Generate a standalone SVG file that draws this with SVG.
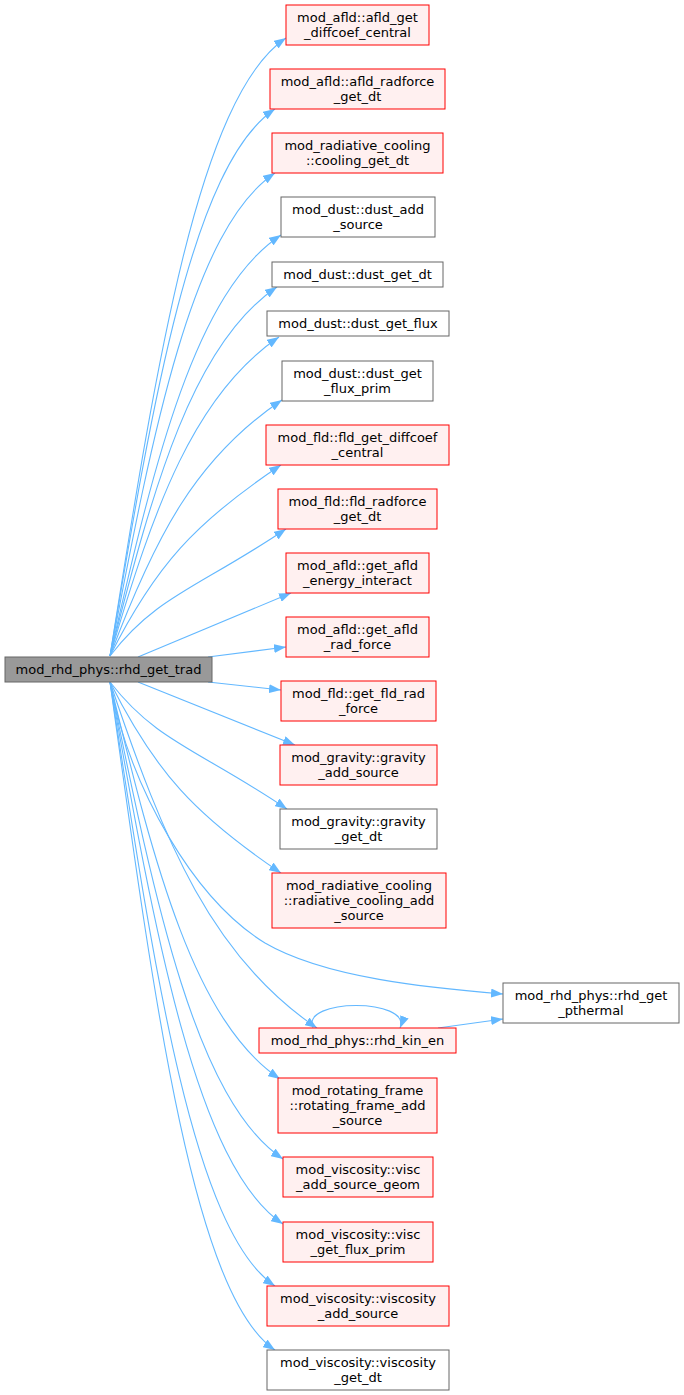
<svg xmlns="http://www.w3.org/2000/svg" width="684" height="1395" viewBox="0 0 684 1395">
<style>
.n rect{stroke-width:1}
.red rect{fill:#fff0f0;stroke:#ff0000}
.gray rect{fill:#ffffff;stroke:#666666}
.main rect{fill:#999999;stroke:#666666}
text{font-family:"DejaVu Sans","Liberation Sans",sans-serif;font-size:13px;fill:#000000;text-anchor:middle}
#edges path{fill:none;stroke:#63b8ff;stroke-width:1.1;marker-end:url(#arr)}
</style>
<defs>
<marker id="arr" viewBox="0 0 12 9" refX="12" refY="4.5" markerWidth="12" markerHeight="9" markerUnits="userSpaceOnUse" orient="auto">
<path d="M0,0 L12,4.5 L0,9 z" fill="#63b8ff" stroke="none"/>
</marker>
</defs>
<rect width="684" height="1395" fill="#ffffff"/>
<g id="edges">
<path d="M110,656 C156,366 198,97 286,38"/>
<path d="M110,656 C153,399 192.5,164 275,109"/>
<path d="M110,656 C153,429 192.5,228 275,173"/>
<path d="M110,656 C155,458 195.5,292 281,235"/>
<path d="M110,656 C154,483 193.5,343 277,287"/>
<path d="M110,656 C154,506 194.5,394 279,337"/>
<path d="M110,656 C155,536 196,458 282,400"/>
<path d="M110,656 C155,566 195.5,522 281,465"/>
<path d="M110,656 C156,596 198,588 286,529"/>
<path d="M138,657 L291,593"/>
<path d="M208,657 L286,647"/>
<path d="M208,682 L281,690"/>
<path d="M138,682 L295,745"/>
<path d="M110,682 C156.5,742 198.5,749.5 287,809"/>
<path d="M110,682 C155,772 195.5,815.5 281,873"/>
<path d="M110,682 C130,790 195,900 265,943 C325,978 430,988 503,994"/>
<path d="M110,682 C164.5,844.6 213.5,958.5 317,1028"/>
<path d="M313,1028 C300,998 412,998 400,1028"/>
<path d="M438,1028 L503,1019"/>
<path d="M110,682 C154.7,868.6 195,1022 280,1079"/>
<path d="M110,682 C155.5,906 196.5,1101 283,1159"/>
<path d="M110,682 C155.5,937 196.5,1166 283,1224"/>
<path d="M110,682 C153.4,966 192.5,1230.6 275,1286"/>
<path d="M110,682 C153.4,996 192.5,1294.6 275,1350"/>
</g>
<g id="node_main" class="n main"><rect x="5" y="657" width="207" height="25"/><text x="108.5" y="673.5">mod_rhd_phys::rhd_get_trad</text></g>
<g id="node1" class="n red"><rect x="286" y="5" width="143" height="40"/><text x="357.5" y="21.5">mod_afld::afld_get</text><text x="357.5" y="36.5">_diffcoef_central</text></g>
<g id="node2" class="n red"><rect x="270" y="69" width="175" height="40"/><text x="357.5" y="85.5">mod_afld::afld_radforce</text><text x="357.5" y="100.5">_get_dt</text></g>
<g id="node3" class="n red"><rect x="272" y="133" width="171" height="40"/><text x="357.5" y="149.5">mod_radiative_cooling</text><text x="357.5" y="164.5">::cooling_get_dt</text></g>
<g id="node4" class="n gray"><rect x="281" y="197" width="154" height="40"/><text x="358" y="213.5">mod_dust::dust_add</text><text x="358" y="228.5">_source</text></g>
<g id="node5" class="n gray"><rect x="272" y="262" width="171" height="25"/><text x="357.5" y="278.5">mod_dust::dust_get_dt</text></g>
<g id="node6" class="n gray"><rect x="267" y="311" width="182" height="25"/><text x="358" y="327.5">mod_dust::dust_get_flux</text></g>
<g id="node7" class="n gray"><rect x="282" y="361" width="151" height="40"/><text x="357.5" y="377.5">mod_dust::dust_get</text><text x="357.5" y="392.5">_flux_prim</text></g>
<g id="node8" class="n red"><rect x="266" y="425" width="183" height="40"/><text x="357.5" y="441.5">mod_fld::fld_get_diffcoef</text><text x="357.5" y="456.5">_central</text></g>
<g id="node9" class="n red"><rect x="278" y="489" width="159" height="40"/><text x="357.5" y="505.5">mod_fld::fld_radforce</text><text x="357.5" y="520.5">_get_dt</text></g>
<g id="node10" class="n red"><rect x="286" y="553" width="143" height="40"/><text x="357.5" y="569.5">mod_afld::get_afld</text><text x="357.5" y="584.5">_energy_interact</text></g>
<g id="node11" class="n red"><rect x="286" y="617" width="143" height="40"/><text x="357.5" y="633.5">mod_afld::get_afld</text><text x="357.5" y="648.5">_rad_force</text></g>
<g id="node12" class="n red"><rect x="281" y="681" width="155" height="40"/><text x="358.5" y="697.5">mod_fld::get_fld_rad</text><text x="358.5" y="712.5">_force</text></g>
<g id="node13" class="n red"><rect x="280" y="745" width="157" height="40"/><text x="358.5" y="761.5">mod_gravity::gravity</text><text x="358.5" y="776.5">_add_source</text></g>
<g id="node14" class="n gray"><rect x="280" y="809" width="157" height="40"/><text x="358.5" y="825.5">mod_gravity::gravity</text><text x="358.5" y="840.5">_get_dt</text></g>
<g id="node15" class="n red"><rect x="272" y="873" width="174" height="55"/><text x="359" y="889.5">mod_radiative_cooling</text><text x="359" y="904.5">::radiative_cooling_add</text><text x="359" y="919.5">_source</text></g>
<g id="node16" class="n gray"><rect x="503" y="983" width="176" height="40"/><text x="591" y="999.5">mod_rhd_phys::rhd_get</text><text x="591" y="1014.5">_pthermal</text></g>
<g id="node17" class="n red"><rect x="259" y="1028" width="197" height="25"/><text x="357.5" y="1044.5">mod_rhd_phys::rhd_kin_en</text></g>
<g id="node18" class="n red"><rect x="278" y="1078" width="159" height="55"/><text x="357.5" y="1094.5">mod_rotating_frame</text><text x="357.5" y="1109.5">::rotating_frame_add</text><text x="357.5" y="1124.5">_source</text></g>
<g id="node19" class="n red"><rect x="283" y="1157" width="150" height="40"/><text x="358" y="1173.5">mod_viscosity::visc</text><text x="358" y="1188.5">_add_source_geom</text></g>
<g id="node20" class="n red"><rect x="283" y="1222" width="150" height="40"/><text x="358" y="1238.5">mod_viscosity::visc</text><text x="358" y="1253.5">_get_flux_prim</text></g>
<g id="node21" class="n red"><rect x="267" y="1286" width="182" height="40"/><text x="358" y="1302.5">mod_viscosity::viscosity</text><text x="358" y="1317.5">_add_source</text></g>
<g id="node22" class="n gray"><rect x="267" y="1350" width="182" height="40"/><text x="358" y="1366.5">mod_viscosity::viscosity</text><text x="358" y="1381.5">_get_dt</text></g>
</svg>
